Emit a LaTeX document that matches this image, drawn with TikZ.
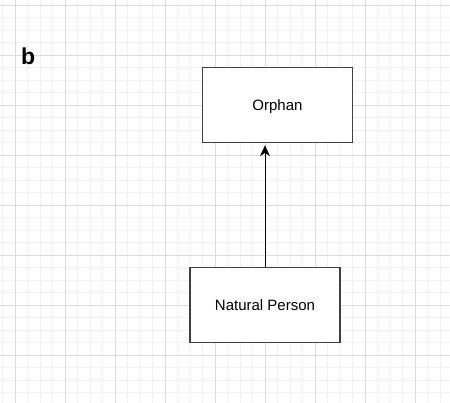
\documentclass[tikz,border=0pt]{standalone}
\usepackage{fontspec}
\setmainfont{Liberation Sans}
\usetikzlibrary{arrows.meta}
\definecolor{gridminor}{HTML}{F2F2F2}
\definecolor{gridmajor}{HTML}{DCDCDC}
\definecolor{boxline}{HTML}{404040}
\begin{document}
\begin{tikzpicture}[x=1pt, y=-1pt, line join=miter,
    minor/.style={draw=gridminor, line width=0.8pt},
    major/.style={draw=gridmajor, line width=0.8pt},
    entity/.style={draw=boxline, fill=white, line width=1.5pt, minimum width=150pt,
      minimum height=75pt, inner sep=0pt, text height=10.7pt, text depth=0pt,
      font=\fontsize{15}{18}\selectfont},
    link/.style={line width=1pt, shorten >=2pt,
      -{Stealth[length=11pt, width=10pt, inset=3.5pt]}}]
  \useasboundingbox (0,0) rectangle (450,403);
  \fill[white] (0,0) rectangle (450,403);
  % grid
  \foreach \x in {2.5,15,...,450} \draw[minor] (\x,0) -- (\x,403);
  \foreach \y in {5,17.5,...,403} \draw[minor] (0,\y) -- (450,\y);
  \foreach \x in {15,65,...,450} \draw[major] (\x,0) -- (\x,403);
  \foreach \y in {5,55,...,403} \draw[major] (0,\y) -- (450,\y);
  % label and boxes
  \node[anchor=base west, inner sep=0pt, font=\bfseries\fontsize{23}{28}\selectfont] (lbl) at (21,64.5) {b};
  \node[entity] (orphan) at (277.5,105) {Orphan};
  \node[entity] (person) at (265,305) {Natural Person};
  \draw[link] (person.north) -- (person.north |- orphan.south);
\end{tikzpicture}
\end{document}
